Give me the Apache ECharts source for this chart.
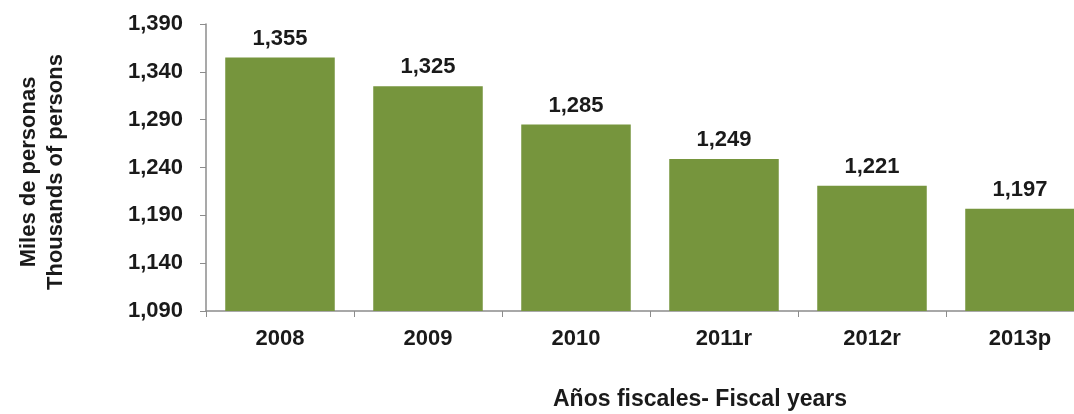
<!DOCTYPE html>
<html><head><meta charset="utf-8">
<script src="https://cdn.jsdelivr.net/npm/echarts@6/dist/echarts.min.js"></script>
<style>html,body{margin:0;padding:0;background:#fff}#c{width:1074px;height:414px}</style>
</head><body><div id="c"></div>
<script>
const categories = ['2008','2009','2010','2011r','2012r','2013p'];
const values = [1355,1325,1285,1249,1221,1197];
const yMin = 1090, yMax = 1390, yStep = 50;
const FONT = '"Liberation Sans", Arial, sans-serif';
const chart = echarts.init(document.getElementById('c'));
chart.setOption({
  animation:false,
  grid:{left:206,top:24,height:287,width:888,containLabel:false,outerBoundsMode:'none'},
  xAxis:{type:'category',data:categories,
    axisLine:{lineStyle:{color:'#8c8c8c',width:1.5}},
    axisTick:{show:true,alignWithLabel:false,length:6,lineStyle:{color:'#8c8c8c'}},
    axisLabel:{color:'#1a1a1a',fontFamily:FONT,fontWeight:'bold',fontSize:22,margin:17}},
  yAxis:{type:'value',min:yMin,max:yMax,interval:yStep,
    splitLine:{show:false},
    axisLine:{show:true,lineStyle:{color:'#8c8c8c',width:1.5}},
    axisTick:{show:true,length:6,lineStyle:{color:'#8c8c8c'}},
    axisLabel:{color:'#1a1a1a',fontFamily:FONT,fontWeight:'bold',fontSize:22,margin:23,
      formatter:v=>v.toLocaleString('en-US')}},
  graphic:[
    {type:'text',left:553,top:388,style:{text:'Años fiscales- Fiscal years',fill:'#1a1a1a',font:'bold 23px '+FONT}},
    {type:'text',x:42,y:172,rotation:Math.PI/2,style:{text:'Miles de personas\nThousands of persons',fill:'#1a1a1a',
      font:'bold 22px '+FONT,lineHeight:27,align:'center',verticalAlign:'middle'}}
  ],
  series:[{type:'bar',data:values,barCategoryGap:'26%',
    itemStyle:{color:'#76953d'},
    label:{show:true,position:'top',distance:8,color:'#1a1a1a',fontFamily:FONT,fontWeight:'bold',fontSize:22,
      formatter:p=>p.value.toLocaleString('en-US')}}]
});
</script></body></html>
